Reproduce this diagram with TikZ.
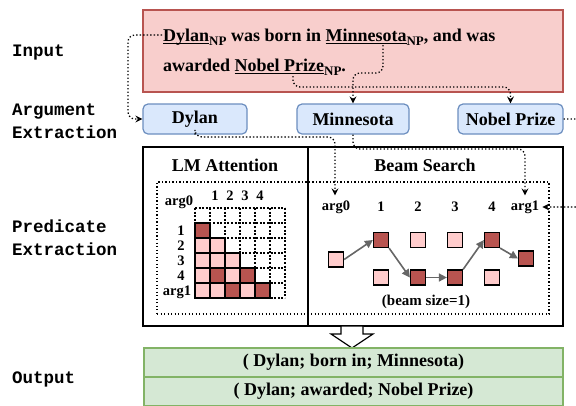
\documentclass[tikz,border=0pt]{standalone}
\usepackage{fontspec}
\setmainfont{Liberation Serif}
\setmonofont{Liberation Mono}
\usetikzlibrary{arrows.meta}
\definecolor{redfill}{HTML}{F8CECC}
\definecolor{redline}{HTML}{B85450}
\definecolor{bluefill}{HTML}{DAE8FC}
\definecolor{blueline}{HTML}{6C8EBF}
\definecolor{greenfill}{HTML}{D5E8D4}
\definecolor{greenline}{HTML}{82B366}
\definecolor{cellD}{HTML}{B85450}
\definecolor{cellL}{HTML}{FFCCCC}
\definecolor{arrgray}{HTML}{666666}
\newsavebox\ulbox
\newcommand\myul[1]{\sbox\ulbox{#1}\rlap{\rule[-3pt]{\wd\ulbox}{1.2pt}}\usebox\ulbox}
\newcommand\np{\raisebox{-4pt}{\fontsize{13}{13}\selectfont NP}}
\tikzset{
  lbl/.style={font=\fontsize{17.5}{20}\selectfont\ttfamily\bfseries, anchor=base west, inner sep=0},
  boxtxt/.style={font=\fontsize{18}{20}\selectfont\bfseries},
  argbox/.style={draw=blueline, fill=bluefill, rounded corners=5pt, line width=1.2pt, minimum height=30pt, inner sep=0, boxtxt},
  outbox/.style={draw=greenline, fill=greenfill, line width=1.2pt, minimum width=419pt, minimum height=29pt, inner sep=0, boxtxt},
  panel/.style={draw, line width=1.3pt, minimum height=179pt, inner sep=0},
  conn/.style={line width=1.3pt, dash pattern=on 1.3pt off 2.2pt, rounded corners=7pt, -{Stealth[length=7pt,width=7pt,inset=2.5pt]}},
  mlbl/.style={font=\fontsize{14.5}{16}\selectfont\bfseries, anchor=base, inner sep=0},
  blbl/.style={font=\fontsize{14.5}{16}\selectfont\bfseries, inner xsep=3pt, inner ysep=5pt},
  griddot/.style={line width=1.1pt, dash pattern=on 2pt off 1.6pt},
  sq/.style={draw, line width=1.2pt, minimum size=15pt, inner sep=0},
  sqD/.style={sq, fill=cellD},
  sqL/.style={sq, fill=cellL},
  garrow/.style={draw=arrgray, line width=1.6pt, -{Triangle[length=8pt,width=8pt]}, color=arrgray}
}
\begin{document}
\begin{tikzpicture}[x=1pt,y=-1pt]
\useasboundingbox (0,0) rectangle (576,405);

% left labels
\node[lbl] (tIn) at (12,56) {Input};
\node[lbl] (tArg1) at (12,115) {Argument};
\node[lbl] (tArg2) at (12,138) {Extraction};
\node[lbl] (tPre1) at (12,232) {Predicate};
\node[lbl] (tPre2) at (12,255) {Extraction};
\node[lbl] (tOut) at (12,383) {Output};

% input
\node[draw=redline, fill=redfill, line width=1.2pt, minimum width=420pt, minimum height=82pt, inner sep=0] (inp) at (353,51) {};
\node[boxtxt, anchor=base west, inner sep=0] (line1) at (163,41) {\myul{Dylan}\np{} was born in \myul{Minnesota}\np, and was};
\node[boxtxt, anchor=base west, inner sep=0] (line2) at (163,71) {awarded \myul{Nobel Prize}\np.};
\coordinate (cD) at (162,35);
\coordinate (cM) at (383,45);
\coordinate (cN) at (293,76);

% argument boxes
\node[argbox, minimum width=104pt] (dylan) at (195,119) {Dylan};
\node[argbox, minimum width=112pt] (minn) at (353,119) {Minnesota};
\node[argbox, minimum width=105pt] (nobel) at (510.5,119) {Nobel Prize};

% predicate panels
\node[panel, minimum width=165pt] (lmp) at (225.5,236.5) {};
\node[panel, minimum width=255pt] (bsp) at (435.5,236.5) {};
\node[boxtxt, inner sep=0] (lmt) at (225,165) {LM Attention};
\node[boxtxt, inner sep=0] (bst) at (425,165) {Beam Search};
\node[draw, line width=1.3pt, dash pattern=on 1.3pt off 2.2pt, minimum width=392pt, minimum height=132pt, inner sep=0] (pframe) at (353,248) {};

% attention matrix
\foreach \i in {0,...,6} {
  \draw[griddot] ({195+15*\i},208) -- ({195+15*\i},298);
  \draw[griddot] (195,{208+15*\i}) -- (285,{208+15*\i});
}
\foreach \r/\c/\f in {1/0/cellD, 2/0/cellL, 2/1/cellL, 3/0/cellL, 3/1/cellL, 3/2/cellL,
  4/0/cellL, 4/1/cellD, 4/2/cellL, 4/3/cellD, 5/0/cellL, 5/1/cellL, 5/2/cellD, 5/3/cellL, 5/4/cellD}
  \filldraw[fill=\f, line width=1.2pt] ({195+15*\c},{208+15*\r}) rectangle ++(15,15);
\node[mlbl] (ma0) at (179,205) {arg0};
\node[mlbl] (mc1) at (215,200) {1};
\node[mlbl] (mc2) at (230,200) {2};
\node[mlbl] (mc3) at (245,200) {3};
\node[mlbl] (mc4) at (260,200) {4};
\node[mlbl] (mr1) at (181,235.5) {1};
\node[mlbl] (mr2) at (181,250.5) {2};
\node[mlbl] (mr3) at (181,265.5) {3};
\node[mlbl] (mr4) at (181,280.5) {4};
\node[mlbl] (mr5) at (177,295.5) {arg1};

% beam search
\node[blbl] (ba0) at (336,207) {arg0};
\node[blbl] (b1l) at (381,207) {1};
\node[blbl] (b2l) at (418,207) {2};
\node[blbl] (b3l) at (455,207) {3};
\node[blbl] (b4l) at (492,207) {4};
\node[blbl] (ba1) at (525,207) {arg1};
\node[sqL] (a0) at (336,259.5) {};
\node[sqD] (t1) at (381,240) {};
\node[sqL] (b1) at (381,277.5) {};
\node[sqL] (t2) at (418,240) {};
\node[sqD] (b2) at (418,277.5) {};
\node[sqL] (t3) at (455,240) {};
\node[sqD] (b3) at (455,277.5) {};
\node[sqD] (t4) at (492,240) {};
\node[sqL] (b4) at (492,277.5) {};
\node[sqD] (a1) at (526,258.5) {};
\draw[garrow] (a0.east) -- (t1.west);
\draw[garrow] (t1.south east) -- (b2.west);
\draw[garrow] (b2.east) -- (b3.west);
\draw[garrow] (b3.north east) -- (t4.west);
\draw[garrow] (t4.south east) -- (a1.west);
\node[font=\fontsize{15}{17}\selectfont\bfseries, inner sep=0] (bsz) at (426,302) {(beam size=1)};

% output
\draw[line width=1.2pt, fill=white] (341,326) -- (363,326) -- (363,334) -- (373,334) -- (352,348) -- (331,334) -- (341,334) -- cycle;
\node[outbox] (o1) at (353.5,362.5) {( Dylan; born in; Minnesota)};
\node[outbox] (o2) at (353.5,391.5) {( Dylan; awarded; Nobel Prize)};

% connectors
\draw[conn] (cD) -- (128,35) -- (128,119) -- (dylan.west);
\draw[conn] (cM) -- (383,73) -- (353,73) -- (minn.north);
\draw[conn] (cN) -- (293,87) -- (510.5,87) -- (nobel.north);
\draw[conn] (dylan.south) -- (195,137) -- (335,137) -- (ba0.north -| 335,0);
\draw[conn] (minn.south) -- (353,149) -- (525,149) -- (ba1.north);
\draw[conn] (nobel.east) -- (590,119) -- (590,207) -- (ba1.east);
\end{tikzpicture}
\end{document}
